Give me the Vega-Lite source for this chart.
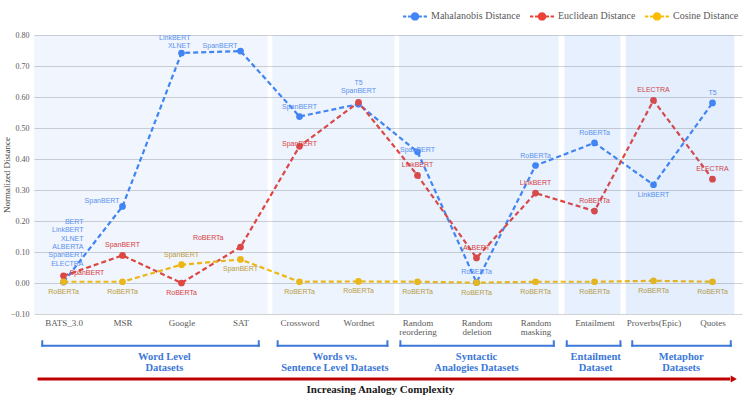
{
  "$schema": "https://vega.github.io/schema/vega-lite/v6.json",
  "autosize": "none",
  "width": 708,
  "height": 279,
  "padding": {"left": 34, "top": 35, "right": 7, "bottom": 92},
  "background": "white",
  "config": {"view": {"stroke": null}},
  "datasets": {
    "pts": [
      {"i": 0, "series": "Mahalanobis Distance", "value": 0.003, "label": "BERT\nLinkBERT\nXLNET\nALBERTA\nSpanBERT\nELECTRA", "pos": "stackright"},
      {"i": 1, "series": "Mahalanobis Distance", "value": 0.247, "label": "SpanBERT", "pos": "left"},
      {"i": 2, "series": "Mahalanobis Distance", "value": 0.742, "label": "LinkBERT\nXLNET", "pos": "stackaboveright"},
      {"i": 3, "series": "Mahalanobis Distance", "value": 0.748, "label": "SpanBERT", "pos": "left"},
      {"i": 4, "series": "Mahalanobis Distance", "value": 0.537, "label": "SpanBERT", "pos": "above"},
      {"i": 5, "series": "Mahalanobis Distance", "value": 0.577, "label": "T5\nSpanBERT", "pos": "stackabove"},
      {"i": 6, "series": "Mahalanobis Distance", "value": 0.423, "label": "SpanBERT", "pos": "on"},
      {"i": 7, "series": "Mahalanobis Distance", "value": 0.002, "label": "RoBERTa", "pos": "above"},
      {"i": 8, "series": "Mahalanobis Distance", "value": 0.379, "label": "RoBERTa", "pos": "above"},
      {"i": 9, "series": "Mahalanobis Distance", "value": 0.452, "label": "RoBERTa", "pos": "above"},
      {"i": 10, "series": "Mahalanobis Distance", "value": 0.317, "label": "LinkBERT", "pos": "below"},
      {"i": 11, "series": "Mahalanobis Distance", "value": 0.581, "label": "T5", "pos": "above"},
      {"i": 0, "series": "Euclidean Distance", "value": 0.023, "label": "SpanBERT", "pos": "right"},
      {"i": 1, "series": "Euclidean Distance", "value": 0.089, "label": "SpanBERT", "pos": "above"},
      {"i": 2, "series": "Euclidean Distance", "value": 0.0, "label": "RoBERTa", "pos": "below"},
      {"i": 3, "series": "Euclidean Distance", "value": 0.116, "label": "RoBERTa", "pos": "upleft"},
      {"i": 4, "series": "Euclidean Distance", "value": 0.441, "label": "SpanBERT", "pos": "on"},
      {"i": 5, "series": "Euclidean Distance", "value": 0.583, "label": "", "pos": "none"},
      {"i": 6, "series": "Euclidean Distance", "value": 0.347, "label": "LinkBERT", "pos": "above"},
      {"i": 7, "series": "Euclidean Distance", "value": 0.081, "label": "ALBERT", "pos": "above"},
      {"i": 8, "series": "Euclidean Distance", "value": 0.29, "label": "LinkBERT", "pos": "above"},
      {"i": 9, "series": "Euclidean Distance", "value": 0.232, "label": "RoBERTa", "pos": "above"},
      {"i": 10, "series": "Euclidean Distance", "value": 0.589, "label": "ELECTRA", "pos": "above"},
      {"i": 11, "series": "Euclidean Distance", "value": 0.335, "label": "ELECTRA", "pos": "above"},
      {"i": 0, "series": "Cosine Distance", "value": 0.004, "label": "RoBERTa", "pos": "below"},
      {"i": 1, "series": "Cosine Distance", "value": 0.004, "label": "RoBERTa", "pos": "below"},
      {"i": 2, "series": "Cosine Distance", "value": 0.059, "label": "SpanBERT", "pos": "above"},
      {"i": 3, "series": "Cosine Distance", "value": 0.076, "label": "SpanBERT", "pos": "below"},
      {"i": 4, "series": "Cosine Distance", "value": 0.004, "label": "RoBERTa", "pos": "below"},
      {"i": 5, "series": "Cosine Distance", "value": 0.005, "label": "RoBERTa", "pos": "below"},
      {"i": 6, "series": "Cosine Distance", "value": 0.004, "label": "RoBERTa", "pos": "below"},
      {"i": 7, "series": "Cosine Distance", "value": 0.001, "label": "RoBERTa", "pos": "below"},
      {"i": 8, "series": "Cosine Distance", "value": 0.004, "label": "RoBERTa", "pos": "below"},
      {"i": 9, "series": "Cosine Distance", "value": 0.004, "label": "RoBERTa", "pos": "below"},
      {"i": 10, "series": "Cosine Distance", "value": 0.007, "label": "RoBERTa", "pos": "below"},
      {"i": 11, "series": "Cosine Distance", "value": 0.004, "label": "RoBERTa", "pos": "below"}
    ],
    "regions": [
      {"level": 1, "from": -0.5, "to": 3.46},
      {"level": 2, "from": 3.54, "to": 5.61},
      {"level": 3, "from": 5.69, "to": 8.39},
      {"level": 4, "from": 8.49, "to": 9.44},
      {"level": 5, "from": 9.53, "to": 11.37}
    ],
    "groups": [
      {"name": "Word Level\nDatasets", "from": -0.36, "to": 3.31, "mid": 1.71},
      {"name": "Words vs.\nSentence Level Datasets", "from": 3.63, "to": 5.49, "mid": 4.6},
      {"name": "Syntactic\nAnalogies Datasets", "from": 5.71, "to": 8.31, "mid": 7.0},
      {"name": "Entailment\nDataset", "from": 8.53, "to": 9.44, "mid": 9.02},
      {"name": "Metaphor\nDatasets", "from": 9.64, "to": 11.31, "mid": 10.47}
    ]
  },
  "layer": [
    {
      "data": {"name": "pts"},
      "mark": {"type": "line", "strokeDash": [5, 3], "strokeWidth": 2.2},
      "encoding": {
        "x": {
          "field": "i", "type": "quantitative", "title": null,
          "scale": {"domain": [-0.5, 11.5], "nice": false, "zero": false},
          "axis": {
            "values": [0, 1, 2, 3, 4, 5, 6, 7, 8, 9, 10, 11], "tickCount": 20,
            "labelExpr": "[['BATS_3.0'],['MSR'],['Google'],['SAT'],['Crossword'],['Wordnet'],['Random','reordering'],['Random','deletion'],['Random','masking'],['Entailment'],['Proverbs(Epic)'],['Quotes']][datum.value]",
            "grid": false, "domain": false, "ticks": false,
            "labelFont": "Liberation Serif", "labelFontSize": 9, "labelColor": "#595959",
            "labelPadding": 4, "labelLineHeight": 9.5, "labelFlush": false, "labelOverlap": false
          }
        },
        "y": {
          "field": "value", "type": "quantitative", "title": "Normalized Distance",
          "scale": {"domain": [-0.1, 0.8], "nice": false, "zero": false},
          "axis": {
            "values": [-0.1, 0, 0.1, 0.2, 0.3, 0.4, 0.5, 0.6, 0.7, 0.8], "tickCount": 20,
            "format": ".2f", "domain": false, "ticks": false, "labelOverlap": false, "labelFlush": false,
            "gridColor": "#d2d2d2", "gridWidth": 1,
            "labelFont": "Liberation Serif", "labelFontSize": 8, "labelColor": "#595959", "labelPadding": 5,
            "titleFont": "Liberation Serif", "titleFontSize": 9, "titleFontWeight": "normal", "titleColor": "#404040", "titleX": -23
          }
        },
        "color": {
          "field": "series", "type": "nominal",
          "scale": {"domain": ["Mahalanobis Distance", "Euclidean Distance", "Cosine Distance"], "range": ["#4285f4", "#ea4335", "#fbbc04"]},
          "legend": {
            "title": null, "orient": "none", "direction": "horizontal", "legendX": 368, "legendY": -32,
            "symbolType": "M-1,0H-0.72M-0.58,0H-0.3M0.3,0H0.58M0.72,0H1M0.27,0A0.27,0.27 0 1 1 -0.27,0A0.27,0.27 0 1 1 0.27,0Z",
            "symbolSize": 576, "labelFont": "Liberation Serif", "labelFontSize": 10, "labelColor": "#595959",
            "labelOffset": 3, "columnPadding": 5, "padding": 0,
            "encode": {"symbols": {"update": {"fill": {"scale": "color", "field": "value"}, "stroke": {"scale": "color", "field": "value"}, "strokeWidth": {"value": 2}, "strokeDash": {"value": []}, "opacity": {"value": 1}}}}
          }
        },
        "order": {"field": "i"}
      }
    },
    {
      "data": {"name": "pts"},
      "mark": {"type": "circle", "size": 45, "opacity": 1},
      "encoding": {
        "x": {"field": "i", "type": "quantitative"},
        "y": {"field": "value", "type": "quantitative"},
        "color": {"field": "series", "type": "nominal"}
      }
    },
    {
      "data": {"name": "pts"},
      "transform": [{"filter": "datum.pos === 'above'"}],
      "mark": {"type": "text", "font": "Liberation Sans", "fontSize": 7, "align": "center", "baseline": "middle", "dy": -10},
      "encoding": {
        "x": {"field": "i", "type": "quantitative"},
        "y": {"field": "value", "type": "quantitative"},
        "text": {"field": "label"},
        "color": {"condition": [{"test": "datum.series === 'Mahalanobis Distance'", "value": "#5e93ee"}, {"test": "datum.series === 'Euclidean Distance'", "value": "#e8392e"}], "value": "#c8a02c"}
      }
    },
    {
      "data": {"name": "pts"},
      "transform": [{"filter": "datum.pos === 'below'"}],
      "mark": {"type": "text", "font": "Liberation Sans", "fontSize": 7, "align": "center", "baseline": "middle", "dy": 10},
      "encoding": {
        "x": {"field": "i", "type": "quantitative"},
        "y": {"field": "value", "type": "quantitative"},
        "text": {"field": "label"},
        "color": {"condition": [{"test": "datum.series === 'Mahalanobis Distance'", "value": "#5e93ee"}, {"test": "datum.series === 'Euclidean Distance'", "value": "#e8392e"}], "value": "#c8a02c"}
      }
    },
    {
      "data": {"name": "pts"},
      "transform": [{"filter": "datum.pos === 'left'"}],
      "mark": {"type": "text", "font": "Liberation Sans", "fontSize": 7, "align": "right", "baseline": "middle", "dx": -3, "dy": -5},
      "encoding": {
        "x": {"field": "i", "type": "quantitative"},
        "y": {"field": "value", "type": "quantitative"},
        "text": {"field": "label"},
        "color": {"condition": [{"test": "datum.series === 'Mahalanobis Distance'", "value": "#5e93ee"}, {"test": "datum.series === 'Euclidean Distance'", "value": "#e8392e"}], "value": "#c8a02c"}
      }
    },
    {
      "data": {"name": "pts"},
      "transform": [{"filter": "datum.pos === 'right'"}],
      "mark": {"type": "text", "font": "Liberation Sans", "fontSize": 7, "align": "left", "baseline": "middle", "dx": 6, "dy": -3},
      "encoding": {
        "x": {"field": "i", "type": "quantitative"},
        "y": {"field": "value", "type": "quantitative"},
        "text": {"field": "label"},
        "color": {"condition": [{"test": "datum.series === 'Mahalanobis Distance'", "value": "#5e93ee"}, {"test": "datum.series === 'Euclidean Distance'", "value": "#e8392e"}], "value": "#c8a02c"}
      }
    },
    {
      "data": {"name": "pts"},
      "transform": [{"filter": "datum.pos === 'upleft'"}],
      "mark": {"type": "text", "font": "Liberation Sans", "fontSize": 7, "align": "right", "baseline": "middle", "dx": -17, "dy": -9},
      "encoding": {
        "x": {"field": "i", "type": "quantitative"},
        "y": {"field": "value", "type": "quantitative"},
        "text": {"field": "label"},
        "color": {"condition": [{"test": "datum.series === 'Mahalanobis Distance'", "value": "#5e93ee"}, {"test": "datum.series === 'Euclidean Distance'", "value": "#e8392e"}], "value": "#c8a02c"}
      }
    },
    {
      "data": {"name": "pts"},
      "transform": [{"filter": "datum.pos === 'on'"}],
      "mark": {"type": "text", "font": "Liberation Sans", "fontSize": 7, "align": "center", "baseline": "middle", "dy": -2},
      "encoding": {
        "x": {"field": "i", "type": "quantitative"},
        "y": {"field": "value", "type": "quantitative"},
        "text": {"field": "label"},
        "color": {"condition": [{"test": "datum.series === 'Mahalanobis Distance'", "value": "#5e93ee"}, {"test": "datum.series === 'Euclidean Distance'", "value": "#e8392e"}], "value": "#c8a02c"}
      }
    },
    {
      "data": {"name": "pts"},
      "transform": [{"filter": "datum.pos === 'stackright'"}],
      "mark": {"type": "text", "font": "Liberation Sans", "fontSize": 7, "align": "right", "baseline": "middle", "lineBreak": "\n", "lineHeight": 8.3, "dx": 20, "dy": -60},
      "encoding": {
        "x": {"field": "i", "type": "quantitative"},
        "y": {"field": "value", "type": "quantitative"},
        "text": {"field": "label"},
        "color": {"value": "#5e93ee"}
      }
    },
    {
      "data": {"name": "pts"},
      "transform": [{"filter": "datum.pos === 'stackaboveright'"}],
      "mark": {"type": "text", "font": "Liberation Sans", "fontSize": 7, "align": "right", "baseline": "middle", "lineBreak": "\n", "lineHeight": 8.3, "dx": 9, "dy": -15},
      "encoding": {
        "x": {"field": "i", "type": "quantitative"},
        "y": {"field": "value", "type": "quantitative"},
        "text": {"field": "label"},
        "color": {"value": "#5e93ee"}
      }
    },
    {
      "data": {"name": "pts"},
      "transform": [{"filter": "datum.pos === 'stackabove'"}],
      "mark": {"type": "text", "font": "Liberation Sans", "fontSize": 7, "align": "center", "baseline": "middle", "lineBreak": "\n", "lineHeight": 8.3, "dy": -21},
      "encoding": {
        "x": {"field": "i", "type": "quantitative"},
        "y": {"field": "value", "type": "quantitative"},
        "text": {"field": "label"},
        "color": {"value": "#5e93ee"}
      }
    },
    {
      "data": {"name": "regions"},
      "mark": {"type": "rect", "color": "#4285f4"},
      "encoding": {
        "x": {"field": "from", "type": "quantitative"},
        "x2": {"field": "to"},
        "y": {"datum": 0.8, "type": "quantitative"},
        "y2": {"datum": -0.1},
        "opacity": {"field": "level", "type": "ordinal", "scale": {"range": [0.08, 0.14, 0.23, 0.37, 0.46]}, "legend": null}
      }
    },
    {
      "data": {"name": "groups"},
      "mark": {"type": "rule", "color": "#3c78d8", "strokeWidth": 2, "strokeCap": "square"},
      "encoding": {
        "x": {"field": "from", "type": "quantitative"},
        "x2": {"field": "to"},
        "y": {"datum": -0.2023, "type": "quantitative"}
      }
    },
    {
      "data": {"name": "groups"},
      "mark": {"type": "rule", "color": "#3c78d8", "strokeWidth": 2, "strokeCap": "square"},
      "encoding": {
        "x": {"field": "from", "type": "quantitative"},
        "y": {"datum": -0.2023, "type": "quantitative"},
        "y2": {"datum": -0.188}
      }
    },
    {
      "data": {"name": "groups"},
      "mark": {"type": "rule", "color": "#3c78d8", "strokeWidth": 2, "strokeCap": "square"},
      "encoding": {
        "x": {"field": "to", "type": "quantitative"},
        "y": {"datum": -0.2023, "type": "quantitative"},
        "y2": {"datum": -0.188}
      }
    },
    {
      "data": {"name": "groups"},
      "mark": {"type": "text", "font": "Liberation Serif", "fontWeight": "bold", "fontSize": 10.5, "color": "#3c78d8", "lineBreak": "\n", "lineHeight": 10.5, "baseline": "middle", "align": "center"},
      "encoding": {
        "x": {"field": "mid", "type": "quantitative"},
        "y": {"datum": -0.2388, "type": "quantitative"},
        "text": {"field": "name"}
      }
    },
    {
      "data": {"values": [{}]},
      "mark": {"type": "rule", "color": "#c00000", "strokeWidth": 3},
      "encoding": {
        "x": {"datum": -0.44, "type": "quantitative"},
        "x2": {"datum": 11.3},
        "y": {"datum": -0.3097, "type": "quantitative"}
      }
    },
    {
      "data": {"values": [{}]},
      "mark": {"type": "point", "shape": "triangle-right", "filled": true, "color": "#c00000", "size": 50, "opacity": 1},
      "encoding": {
        "x": {"datum": 11.36, "type": "quantitative"},
        "y": {"datum": -0.3097, "type": "quantitative"}
      }
    },
    {
      "data": {"values": [{}]},
      "mark": {"type": "text", "text": "Increasing Analogy Complexity", "font": "Liberation Serif", "fontWeight": "bold", "fontSize": 11, "color": "#1a1a1a", "align": "center", "baseline": "middle"},
      "encoding": {
        "x": {"datum": 5.37, "type": "quantitative"},
        "y": {"datum": -0.345, "type": "quantitative"}
      }
    }
  ]
}
